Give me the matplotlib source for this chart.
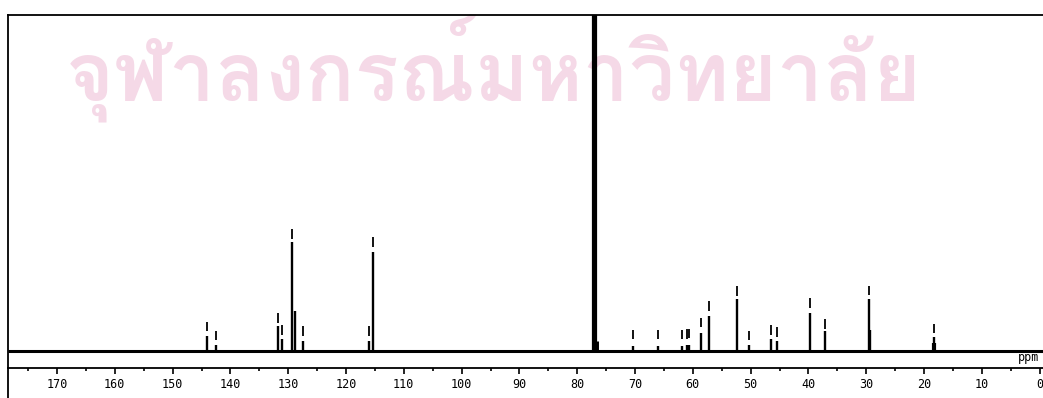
import matplotlib
matplotlib.use("Agg")
import matplotlib.pyplot as plt
from matplotlib import font_manager
from matplotlib.ft2font import FT2Font
from matplotlib.lines import Line2D

# 13C NMR peak list (ppm), heights in arbitrary units
shifts = [144.1, 142.5, 131.7, 131.0, 129.3, 128.9, 127.4, 116.0, 115.4,
          70.3, 66.0, 61.8, 61.0, 60.7, 58.6, 57.2, 52.4, 50.3, 46.5,
          45.4, 39.8, 37.1, 29.5, 29.3, 18.3]
heights = [15, 6, 25, 12, 109, 40, 10, 10, 99,
           5, 5, 5, 6, 6, 18, 35, 52, 6, 12,
           10, 38, 20, 52, 21, 14]
# peak-pick marks printed above the peaks
mark_lo = [20, 11, 28, 16, 112, None, 15, 15, 104,
           12, 12, 12, 12, 13, 24, 40, 55, 11, 16,
           14, 43, 22, 56, None, 18]
mark_hi = [29, 20, 38, 26, 122, None, 25, 25, 114,
           21, 21, 21, 22, 22, 33, 50, 65, 20, 26,
           24, 53, 32, 65, None, 27]
# CDCl3 triplet
solvent = [77.3, 77.0, 76.7]
solvent_height = 400

ticks = list(range(170, -1, -10))
watermark = "จุฬาลงกรณ์มหาวิทยาลัย"

W, H = 1043, 398
fig = plt.figure(figsize=(W / 100, H / 100), dpi=100)
ax = fig.add_axes([8 / W, 1 - 368 / H, 1042 / W, 353 / H])
ax.set_zorder(1)
ax.patch.set_alpha(0)

# baseline
ax.plot([178.5, -2], [0, 0], color="black", lw=2.2, solid_capstyle="butt")
ax.vlines(shifts, 0, heights, color="black", lw=1.7)
ax.vlines(solvent, 0, solvent_height, color="black", lw=1.6)
ax.vlines([77.0], 0, 10, color="black", lw=5)
ax.vlines([18.3], 0, 8, color="black", lw=3)
for x, lo, hi in zip(shifts, mark_lo, mark_hi):
    if lo is not None:
        ax.vlines(x, lo, hi, color="black", lw=1.3)

ax.set_xlim(178.48, -1.8)
ax.set_ylim(-17, 336)
ax.set_yticks([])
ax.set_xticks(ticks)
ax.set_xticks(range(175, -1, -5), minor=True)
ax.set_xticklabels([str(t) for t in ticks], family="DejaVu Sans Mono", fontsize=8.5)
ax.tick_params(axis="x", which="major", direction="out", length=4, width=1.2, pad=3.5)
ax.tick_params(axis="x", which="minor", direction="out", length=2, width=1.2)
for s in ["top", "left", "bottom"]:
    ax.spines[s].set_linewidth(1.3)
ax.spines["right"].set_visible(False)
ax.text(3.7, -6, "ppm", family="DejaVu Sans Mono", fontsize=8.5, va="center", ha="left")

# left frame line continues down past the scale
fig.add_artist(Line2D([8 / W, 8 / W], [0, 1 - 368 / H], color="black", lw=1.3))

# watermark: pick an installed font that has Thai glyphs
thai_font = None
for f in font_manager.fontManager.ttflist:
    try:
        if 0x0E08 in FT2Font(f.fname).get_charmap():
            thai_font = f.name
            break
    except Exception:
        pass
if thai_font:
    fig.text(66 / W, 1 - 100 / H, watermark, family=thai_font, fontsize=59,
             fontweight="bold", color="#f5d9e7", ha="left", va="baseline", zorder=0)

fig.savefig("out.png", dpi=100)
